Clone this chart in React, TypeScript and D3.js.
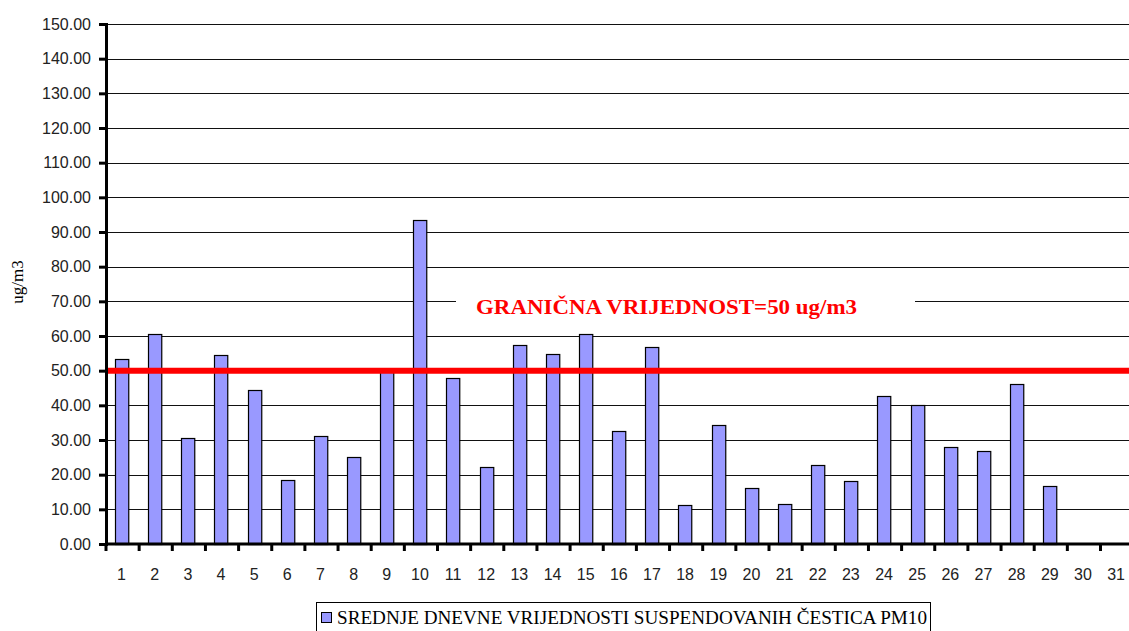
import { useRef, useEffect } from 'react';
import * as d3 from 'd3';

const days = d3.range(1, 32).map(String);
// daily mean PM10, days 30 and 31 have no data
const pm10: (number | null)[] = [
  53.3, 60.6, 30.5, 54.4, 44.3, 18.4, 31.2, 25.0, 50.2, 93.5,
  47.8, 22.3, 57.5, 54.8, 60.6, 32.7, 56.8, 11.2, 34.3, 16.2,
  11.5, 22.9, 18.1, 42.6, 40.2, 28.1, 26.8, 46.1, 16.7, null, null,
];
const yTicks = d3.range(0, 151, 10);
const limitValue = 50;
const limitLabel = 'GRANIČNA VRIJEDNOST=50 ug/m3';
const legendLabel = 'SREDNJE DNEVNE VRIJEDNOSTI SUSPENDOVANIH ČESTICA PM10';
const yTitle = 'ug/m3';

const width = 1129;
const height = 631;

export default function App() {
  const svgRef = useRef<SVGSVGElement | null>(null);

  useEffect(() => {
    document.body.style.margin = '0';
    if (!svgRef.current) return;
    const svg = d3.select(svgRef.current);
    svg.selectAll('*').remove();

    const margin = { top: 24, left: 106 };
    const plotBottom = 544;
    const band = 33.15;

    const x = d3
      .scaleBand<string>()
      .domain(days)
      .range([margin.left, margin.left + band * days.length])
      .paddingInner(0.6)
      .paddingOuter(0.3);

    const y = d3.scaleLinear().domain([0, 150]).range([plotBottom, margin.top]);

    const sans = 'Liberation Sans, Arial, sans-serif';
    const serif = 'Liberation Serif, Times New Roman, serif';

    // grid lines
    svg
      .append('g')
      .selectAll('line')
      .data(yTicks.filter((d) => d > 0))
      .join('line')
      .attr('x1', margin.left)
      .attr('x2', width)
      .attr('y1', (d) => Math.round(y(d)) + 0.5)
      .attr('y2', (d) => Math.round(y(d)) + 0.5)
      .attr('stroke', '#111')
      .attr('stroke-width', 1);

    // bars
    svg
      .append('g')
      .selectAll('rect')
      .data(pm10.map((v, i) => ({ day: days[i], v })).filter((d) => d.v !== null))
      .join('rect')
      .attr('x', (d) => Math.round(x(d.day)! - 1) + 0.5)
      .attr('y', (d) => Math.round(y(d.v as number)) + 0.5)
      .attr('width', x.bandwidth())
      .attr('height', (d) => plotBottom - Math.round(y(d.v as number)))
      .attr('fill', '#9999ff')
      .attr('stroke', '#000')
      .attr('stroke-width', 1.2);

    // label box over gridline
    svg
      .append('rect')
      .attr('x', 456)
      .attr('y', y(70) - 12)
      .attr('width', 459)
      .attr('height', 26)
      .attr('fill', '#fff');

    svg
      .append('text')
      .attr('x', 476)
      .attr('y', y(70) + 13)
      .attr('fill', '#ff0000')
      .attr('font-family', serif)
      .attr('font-weight', 'bold')
      .attr('font-size', 21)
      .attr('textLength', 381)
      .attr('lengthAdjust', 'spacingAndGlyphs')
      .text(limitLabel);

    // limit line
    svg
      .append('line')
      .attr('x1', margin.left)
      .attr('x2', width)
      .attr('y1', y(limitValue))
      .attr('y2', y(limitValue))
      .attr('stroke', '#ff0000')
      .attr('stroke-width', 6);

    // y axis
    const yAxis = svg
      .append('g')
      .attr('transform', `translate(${margin.left},0)`)
      .call(d3.axisLeft(y).tickValues(yTicks).tickSize(7).tickPadding(8).tickFormat(d3.format('.2f')));
    yAxis.select('.domain').attr('stroke', '#000').attr('stroke-width', 3);
    yAxis.selectAll('.tick line').attr('stroke', '#000').attr('stroke-width', 3);
    yAxis
      .selectAll('.tick text')
      .attr('font-family', sans)
      .attr('font-size', 16)
      .attr('fill', '#222');

    // x axis: ticks at category boundaries
    const xg = svg.append('g');
    xg.append('line')
      .attr('x1', margin.left)
      .attr('x2', width)
      .attr('y1', plotBottom)
      .attr('y2', plotBottom)
      .attr('stroke', '#000')
      .attr('stroke-width', 3);
    xg.selectAll('.tk')
      .data(d3.range(0, days.length + 1))
      .join('line')
      .attr('class', 'tk')
      .attr('x1', (i) => margin.left + i * band)
      .attr('x2', (i) => margin.left + i * band)
      .attr('y1', plotBottom)
      .attr('y2', plotBottom + 7)
      .attr('stroke', '#000')
      .attr('stroke-width', 3);
    xg.selectAll('text')
      .data(days)
      .join('text')
      .attr('x', (d) => x(d)! + x.bandwidth() / 2 - 1)
      .attr('y', 580)
      .attr('text-anchor', 'middle')
      .attr('font-family', sans)
      .attr('font-size', 16)
      .attr('fill', '#222')
      .text((d) => d);

    // y title
    svg
      .append('text')
      .attr('transform', 'translate(23,282) rotate(-90)')
      .attr('text-anchor', 'middle')
      .attr('font-family', serif)
      .attr('font-size', 17)
      .attr('fill', '#000')
      .text(yTitle);

    // legend
    const lg = svg.append('g');
    lg.append('rect')
      .attr('x', 316.5)
      .attr('y', 602.5)
      .attr('width', 614)
      .attr('height', 40)
      .attr('fill', '#fff')
      .attr('stroke', '#000');
    lg.append('rect')
      .attr('x', 321.5)
      .attr('y', 612.5)
      .attr('width', 10)
      .attr('height', 10)
      .attr('fill', '#9999ff')
      .attr('stroke', '#000');
    lg.append('text')
      .attr('x', 337)
      .attr('y', 624)
      .attr('font-family', serif)
      .attr('font-size', 18)
      .attr('textLength', 590)
      .attr('lengthAdjust', 'spacingAndGlyphs')
      .attr('fill', '#000')
      .text(legendLabel);
  }, []);

  return <svg ref={svgRef} width={width} height={height} style={{ display: 'block' }} />;
}
